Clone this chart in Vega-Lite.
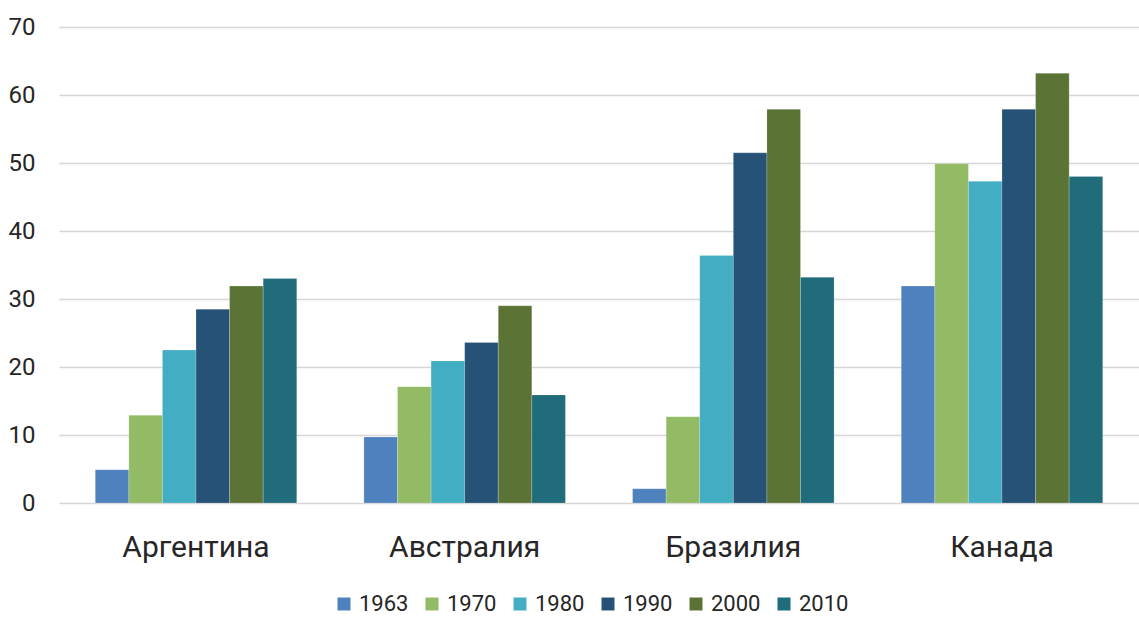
{
  "$schema": "https://vega.github.io/schema/vega-lite/v6.json",
  "width": 1080,
  "height": 476,
  "autosize": {"type": "none"},
  "padding": {"left": 59, "top": 27, "right": 0, "bottom": 114},
  "background": "#ffffff",
  "data": {
    "values": [
      {"country": "Аргентина", "year": "1963", "value": 4.9},
      {"country": "Аргентина", "year": "1970", "value": 12.9},
      {"country": "Аргентина", "year": "1980", "value": 22.5},
      {"country": "Аргентина", "year": "1990", "value": 28.5},
      {"country": "Аргентина", "year": "2000", "value": 31.9},
      {"country": "Аргентина", "year": "2010", "value": 33.0},
      {"country": "Австралия", "year": "1963", "value": 9.7},
      {"country": "Австралия", "year": "1970", "value": 17.1},
      {"country": "Австралия", "year": "1980", "value": 20.9},
      {"country": "Австралия", "year": "1990", "value": 23.6},
      {"country": "Австралия", "year": "2000", "value": 29.0},
      {"country": "Австралия", "year": "2010", "value": 15.9},
      {"country": "Бразилия", "year": "1963", "value": 2.1},
      {"country": "Бразилия", "year": "1970", "value": 12.7},
      {"country": "Бразилия", "year": "1980", "value": 36.4},
      {"country": "Бразилия", "year": "1990", "value": 51.5},
      {"country": "Бразилия", "year": "2000", "value": 57.9},
      {"country": "Бразилия", "year": "2010", "value": 33.2},
      {"country": "Канада", "year": "1963", "value": 31.9},
      {"country": "Канада", "year": "1970", "value": 49.9},
      {"country": "Канада", "year": "1980", "value": 47.3},
      {"country": "Канада", "year": "1990", "value": 57.9},
      {"country": "Канада", "year": "2000", "value": 63.2},
      {"country": "Канада", "year": "2010", "value": 48.0}
    ]
  },
  "mark": {"type": "bar", "stroke": "#ffffff", "strokeWidth": 0.5, "strokeOpacity": 0.4},
  "encoding": {
    "x": {
      "field": "country",
      "type": "nominal",
      "sort": ["Аргентина", "Австралия", "Бразилия", "Канада"],
      "scale": {"paddingInner": 0.25, "paddingOuter": 0.135},
      "axis": {
        "title": null,
        "labelAngle": 0,
        "ticks": false,
        "domain": false,
        "grid": false,
        "labelFontSize": 30,
        "labelPadding": 29,
        "labelColor": "#262626",
        "labelFont": "Roboto"
      }
    },
    "xOffset": {"field": "year", "type": "nominal", "scale": {"paddingInner": 0, "paddingOuter": 0}},
    "y": {
      "field": "value",
      "type": "quantitative",
      "scale": {"domain": [0, 70], "nice": false},
      "axis": {
        "title": null,
        "values": [0, 10, 20, 30, 40, 50, 60, 70],
        "ticks": false,
        "domain": false,
        "gridColor": "#d6d6d6",
        "gridWidth": 1.6,
        "labelFontSize": 24,
        "labelPadding": 24,
        "labelColor": "#262626",
        "labelFont": "Roboto"
      }
    },
    "color": {
      "field": "year",
      "type": "nominal",
      "scale": {
        "domain": ["1963", "1970", "1980", "1990", "2000", "2010"],
        "range": ["#4e81bd", "#93bb65", "#43adc4", "#265278", "#5b7436", "#206c7a"]
      },
      "legend": {
        "title": null,
        "orient": "none",
        "direction": "horizontal",
        "legendX": 274,
        "legendY": 566,
        "symbolType": "square",
        "symbolSize": 169,
        "symbolOpacity": 1,
        "symbolStrokeWidth": 0,
        "labelFontSize": 22,
        "labelOffset": 4,
        "columnPadding": 12,
        "labelColor": "#262626",
        "labelFont": "Roboto"
      }
    }
  },
  "config": {"view": {"stroke": null}}
}
